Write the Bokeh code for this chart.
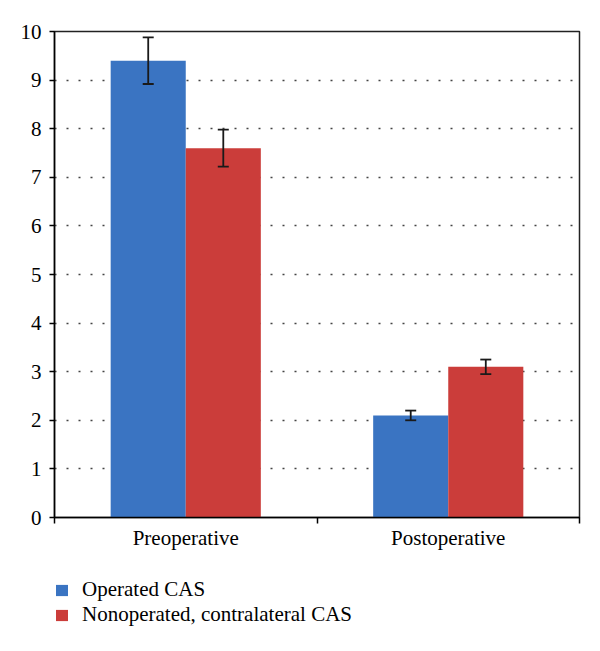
from bokeh.plotting import figure
from bokeh.layouts import column
from bokeh.models import (ColumnDataSource, FixedTicker, Whisker, TeeHead, Legend, LegendItem, Range1d)
from bokeh.embed import file_html
from bokeh.resources import INLINE

categories = ["Preoperative", "Postoperative"]
series_names = ["Operated CAS", "Nonoperated, contralateral CAS"]
operated = [9.4, 2.1]
operated_err = [0.48, 0.1]
nonoperated = [7.6, 3.1]
nonoperated_err = [0.38, 0.15]
y_ticks = [0, 1, 2, 3, 4, 5, 6, 7, 8, 9, 10]

BLUE = "#3A74C2"
RED = "#CB3D3A"
FONT = "Liberation Serif"
FS = "21px"

p = figure(width=590, height=560, output_backend="svg", toolbar_location=None,
           x_range=Range1d(0, 2), y_range=Range1d(0, 10),
           min_border_left=54, min_border_right=11, min_border_top=31,
           min_border_bottom=43)

bw = 0.286
centers = [i + 0.5 for i in range(len(categories))]
src_a = ColumnDataSource(dict(x=[c - bw / 2 for c in centers], top=operated,
                              up=[v + e for v, e in zip(operated, operated_err)],
                              lo=[v - e for v, e in zip(operated, operated_err)]))
src_b = ColumnDataSource(dict(x=[c + bw / 2 for c in centers], top=nonoperated,
                              up=[v + e for v, e in zip(nonoperated, nonoperated_err)],
                              lo=[v - e for v, e in zip(nonoperated, nonoperated_err)]))

p.vbar(x="x", top="top", width=bw, source=src_a, fill_color=BLUE, line_color=None)
p.vbar(x="x", top="top", width=bw, source=src_b, fill_color=RED, line_color=None)

EB = "#1a1a1a"
for src in (src_a, src_b):
    w = Whisker(base="x", upper="up", lower="lo", source=src, level="overlay",
                line_color=EB, line_width=1.8,
                upper_head=TeeHead(size=11, line_color=EB, line_width=1.8),
                lower_head=TeeHead(size=11, line_color=EB, line_width=1.8))
    p.add_layout(w)

# grid
p.xgrid.grid_line_color = None
p.ygrid.ticker = FixedTicker(ticks=y_ticks[1:-1])
p.ygrid.grid_line_color = "#444444"
p.ygrid.grid_line_dash = "2 10"
p.ygrid.grid_line_width = 1.5

# y axis
p.yaxis.ticker = FixedTicker(ticks=y_ticks)
p.yaxis.major_tick_out = 5
p.yaxis.major_tick_in = 0
p.yaxis.minor_tick_line_color = None
p.yaxis.axis_line_color = "black"
p.yaxis.axis_line_width = 1.5
p.yaxis.major_tick_line_width = 1.5
p.yaxis.major_label_text_font = FONT
p.yaxis.major_label_text_font_size = FS
p.yaxis.major_label_text_color = "black"
p.yaxis.major_label_standoff = 8

# x axis
p.xaxis.ticker = FixedTicker(ticks=centers, minor_ticks=[0, 1, 2])
p.xaxis.major_label_overrides = {c: name for c, name in zip(centers, categories)}
p.xaxis.major_tick_out = 0
p.xaxis.major_tick_in = 0
p.xaxis.minor_tick_out = 6
p.xaxis.minor_tick_in = 0
p.xaxis.minor_tick_line_color = "black"
p.xaxis.minor_tick_line_width = 1.5
p.xaxis.axis_line_color = "black"
p.xaxis.axis_line_width = 1.5
p.xaxis.major_label_text_font = FONT
p.xaxis.major_label_text_font_size = FS
p.xaxis.major_label_text_color = "black"
p.xaxis.major_label_standoff = 2

p.outline_line_color = "#222222"
p.outline_line_width = 1.5

# legend figure (swatch renderers placed outside the visible range)
q = figure(width=590, height=85, output_backend="svg", toolbar_location=None,
           x_range=Range1d(0, 1), y_range=Range1d(0, 1),
           min_border_left=0, min_border_right=0, min_border_top=0, min_border_bottom=0)
q.axis.visible = False
q.grid.visible = False
q.outline_line_color = None
la = q.vbar(x=[-5], top=[-5], width=0.1, fill_color=BLUE, line_color=None)
lb = q.vbar(x=[-5], top=[-5], width=0.1, fill_color=RED, line_color=None)

legend = Legend(items=[LegendItem(label=series_names[0], renderers=[la]),
                       LegendItem(label=series_names[1], renderers=[lb])],
                location=(0, 18), orientation="vertical",
                border_line_color=None, background_fill_alpha=0,
                label_text_font=FONT, label_text_font_size=FS,
                label_text_color="black", glyph_width=15, glyph_height=14,
                label_height=20, spacing=0, padding=0, margin=0, label_standoff=13)
q.add_layout(legend, "center")

layout = column(p, q, spacing=0)
open("out.html", "w").write(file_html(layout, INLINE))
